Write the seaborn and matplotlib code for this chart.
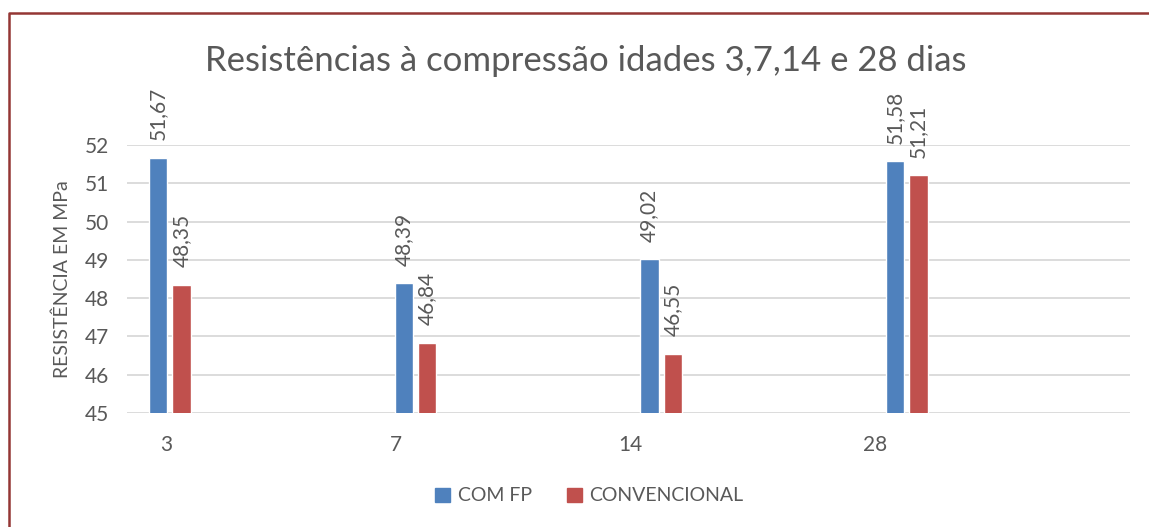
import numpy as np
import pandas as pd
import seaborn as sns
import matplotlib.pyplot as plt
from matplotlib.lines import Line2D

# Data - idades (dias) e resistências (MPa)
idades = ['3', '7', '14', '28']
com_fp = [51.67, 48.39, 49.02, 51.58]
convencional = [48.35, 46.84, 46.55, 51.21]
series = ['COM FP', 'CONVENCIONAL']
cores = ['#4F81BD', '#C0504D']

df = pd.DataFrame({
    'idade': idades * 2,
    'valor': com_fp + convencional,
    'serie': [series[0]] * 4 + [series[1]] * 4,
})

sns.set_theme(style='white')
plt.rcParams['font.family'] = ['Lato', 'DejaVu Sans']
txt = '#595959'

fig = plt.figure(figsize=(11.49, 5.27), dpi=100)
ax = fig.add_axes([0.1105, 0.2163, 0.873, 0.5086])

sns.barplot(data=df, x='idade', y='valor', hue='serie', order=idades,
            hue_order=series, palette=cores, width=0.191, gap=0.216,
            saturation=1, ax=ax, legend=True)

ax.set_ylim(45, 52)
ax.set_xlim(-0.175, 3.91)
ax.set_yticks(range(45, 53))
ax.yaxis.grid(True, color='#D9D9D9', linewidth=1.3)
ax.set_axisbelow(True)
for s in ax.spines.values():
    s.set_visible(False)
ax.tick_params(axis='y', length=0, pad=13, labelsize=15, labelcolor=txt)
ax.tick_params(axis='x', length=0, pad=16, labelsize=15, labelcolor=txt)
# tick labels sit a bit left of the bar pairs, like in the original sheet
ax.set_xticks(np.arange(4) + np.array([-0.016, -0.08, -0.125, -0.13]))
ax.set_xticklabels(idades)
ax.set_xlabel('')
ax.set_ylabel('RESISTÊNCIA EM MPa', fontsize=14, color=txt, labelpad=10)

for cont in ax.containers:
    for bar in cont:
        h = bar.get_height()
        ax.annotate(f'{h:.2f}'.replace('.', ','),
                    (bar.get_x() + bar.get_width() / 2, h),
                    xytext=(0, 12.5), textcoords='offset points',
                    rotation=90, ha='center', va='bottom',
                    fontsize=15, color=txt, annotation_clip=False)

ax.get_legend().remove()
handles = [plt.Rectangle((0, 0), 1, 1, color=c) for c in cores]
fig.legend(handles, series, loc='center', bbox_to_anchor=(0.513, 0.059),
           ncol=2, frameon=False, fontsize=14, labelcolor=txt,
           handlelength=0.75, handleheight=0.75, handletextpad=0.4,
           columnspacing=1.8)

fig.text(0.51, 0.885, 'Resistências à compressão idades 3,7,14 e 28 dias',
         ha='center', va='center', fontsize=25, color=txt)

# moldura vermelha (só topo e esquerda visíveis)
fig.add_artist(Line2D([9 / 1149, 9 / 1149, 1.0], [0.0, 1 - 13 / 527, 1 - 13 / 527],
                      transform=fig.transFigure, color='#943634', linewidth=1.8))

fig.savefig('out.png', dpi=100)
